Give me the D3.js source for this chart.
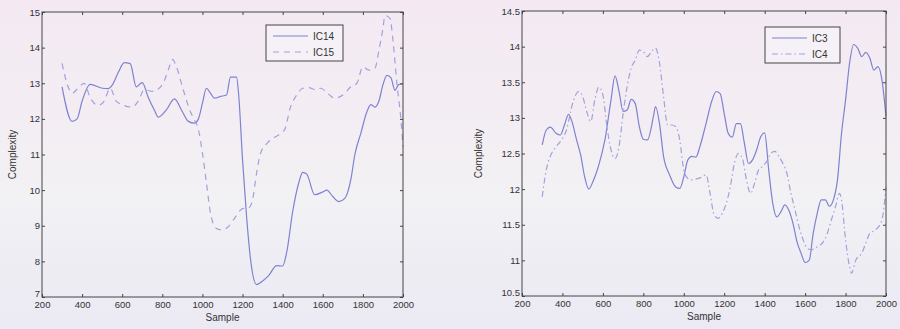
<!DOCTYPE html>
<html>
<head>
<meta charset="utf-8">
<script src="https://cdn.jsdelivr.net/npm/d3@7"></script>
<style>
  body { margin: 0; background: #f1eef4; }
  svg { display: block; }
  text { font-family: "Liberation Sans", Arial, sans-serif; fill: #333; }
</style>
</head>
<body>
<div id="chart"></div>
<script>
// left panel
const xIC14 = [300,350,375,400,440,500,530,550,580,610,640,670,700,730,760,780,820,860,900,930,960,980,1000,1020,1040,1060,1090,1120,1140,1170,1180,1200,1220,1240,1270,1300,1330,1370,1400,1420,1450,1480,1500,1520,1560,1600,1620,1650,1680,1710,1740,1760,1790,1820,1840,1860,1880,1900,1920,1940,1960,1980,2000];
const yIC14 = [12.9,11.93,12.0,12.5,12.97,12.86,12.85,12.95,13.3,13.58,13.55,12.9,13.02,12.6,12.25,12.05,12.25,12.56,12.2,11.93,11.88,12.0,12.44,12.86,12.72,12.58,12.63,12.67,13.17,13.17,12.72,10.85,9.26,8.05,7.35,7.45,7.6,7.88,7.87,8.25,9.4,10.2,10.5,10.45,9.87,9.95,10.0,9.82,9.68,9.77,10.3,11.0,11.6,12.2,12.4,12.33,12.5,12.96,13.22,13.15,12.8,12.97,12.97];
const xIC15 = [300,330,350,380,410,440,480,510,540,570,600,650,680,710,750,800,830,850,870,900,940,960,980,1000,1020,1040,1060,1080,1100,1130,1160,1200,1230,1250,1270,1290,1320,1350,1380,1410,1440,1470,1500,1530,1560,1590,1620,1660,1700,1740,1770,1800,1830,1860,1880,1900,1910,1935,1950,1970,1990,2000];
const yIC15 = [13.56,12.9,12.72,12.86,13.0,12.6,12.38,12.5,12.86,12.5,12.4,12.33,12.5,12.82,12.77,12.96,13.38,13.67,13.47,12.9,12.2,11.97,11.7,11.04,10.2,9.36,8.98,8.9,8.89,8.98,9.21,9.48,9.5,9.73,10.48,11.04,11.3,11.45,11.55,11.7,12.35,12.67,12.86,12.88,12.82,12.86,12.74,12.58,12.67,12.9,13.0,13.46,13.37,13.42,13.93,14.54,14.9,14.82,14.2,12.97,11.97,11.22];

// right panel
const xIC3 = [300,320,340,370,390,410,430,450,470,490,510,530,550,580,610,640,660,680,700,720,740,760,780,800,820,850,860,880,900,930,960,980,1000,1020,1040,1060,1080,1110,1140,1160,1180,1200,1220,1240,1260,1280,1300,1320,1340,1360,1380,1400,1420,1440,1460,1480,1500,1520,1540,1560,1580,1600,1620,1640,1660,1680,1700,1720,1740,1760,1780,1800,1820,1840,1860,1880,1900,1920,1940,1960,1980,2000];
const yIC3 = [12.62,12.83,12.87,12.78,12.76,12.9,13.05,12.92,12.69,12.48,12.17,12.0,12.1,12.34,12.69,13.25,13.59,13.37,13.09,13.11,13.26,13.2,12.88,12.7,12.69,13.02,13.16,12.92,12.46,12.2,12.03,12.01,12.17,12.41,12.46,12.45,12.6,12.92,13.25,13.37,13.34,13.06,12.78,12.73,12.92,12.92,12.64,12.36,12.41,12.55,12.73,12.79,12.27,11.8,11.61,11.68,11.78,11.7,11.52,11.26,11.1,10.97,11.0,11.38,11.66,11.85,11.85,11.76,11.85,12.13,12.78,13.25,13.77,14.03,13.98,13.86,13.92,13.84,13.67,13.72,13.53,13.02];
const xIC4 = [300,320,340,370,400,420,450,480,500,520,540,560,580,600,620,640,660,680,700,720,740,760,780,800,820,840,860,880,900,920,940,960,980,1000,1020,1040,1060,1090,1110,1130,1150,1170,1190,1210,1230,1250,1270,1290,1310,1330,1350,1370,1390,1410,1430,1450,1470,1490,1510,1530,1550,1570,1590,1610,1630,1660,1690,1710,1730,1750,1770,1780,1800,1820,1830,1850,1880,1900,1920,1950,1980,2000];
const yIC4 = [11.89,12.27,12.46,12.6,12.71,12.83,13.2,13.37,13.3,13.09,12.95,13.25,13.43,13.32,12.88,12.55,12.43,12.6,13.06,13.44,13.7,13.81,13.95,13.93,13.86,13.93,13.98,13.77,13.3,12.9,12.9,12.88,12.69,12.27,12.15,12.13,12.14,12.17,12.2,11.94,11.64,11.59,11.66,11.8,12.03,12.36,12.5,12.43,12.13,11.94,12.08,12.27,12.32,12.39,12.5,12.53,12.46,12.36,12.22,11.94,11.71,11.47,11.29,11.17,11.15,11.19,11.26,11.38,11.57,11.75,11.94,11.85,11.29,10.91,10.82,11.0,11.1,11.24,11.38,11.43,11.57,12.03];

const xTicks = [200,400,600,800,1000,1200,1400,1600,1800,2000];
const yTicksLeft = [7,8,9,10,11,12,13,14,15];
const yTicksRight = [10.5,11,11.5,12,12.5,13,13.5,14,14.5];

const W = 900, H = 329;
const svg = d3.select("#chart").append("svg").attr("width", W).attr("height", H);

// soft scanned-paper tint
const grad = svg.append("defs").append("linearGradient")
  .attr("id", "bg").attr("x1", 0).attr("y1", 0).attr("x2", 0).attr("y2", 1);
grad.append("stop").attr("offset", "0%").attr("stop-color", "#f4e9f3");
grad.append("stop").attr("offset", "40%").attr("stop-color", "#f3eef3");
grad.append("stop").attr("offset", "60%").attr("stop-color", "#f2f1f4");
grad.append("stop").attr("offset", "100%").attr("stop-color", "#ebe9f3");
svg.append("rect").attr("width", W).attr("height", H).attr("fill", "url(#bg)");

const solidColor = "#7e82d0";
const dashColor = "#a0a2dc";

function panel(opts) {
  const { left, right, top, bottom, yDomain, yTicks, series, legend } = opts;
  const g = svg.append("g");

  const x = d3.scaleLinear().domain([200, 2000]).range([left, right]);
  const y = d3.scaleLinear().domain(yDomain).range([bottom, top]);

  // inward ticks on all four sides, MATLAB style
  g.append("g").attr("transform", `translate(0,${bottom})`)
    .call(d3.axisBottom(x).tickValues(xTicks).tickSizeInner(-3).tickSizeOuter(0).tickPadding(4)
      .tickFormat(d3.format("d")))
    .call(a => a.select(".domain").remove());
  g.append("g").attr("transform", `translate(0,${top})`)
    .call(d3.axisTop(x).tickValues(xTicks).tickSizeInner(-3).tickSizeOuter(0).tickFormat(""))
    .call(a => a.select(".domain").remove());
  const yAxis = g.append("g").attr("transform", `translate(${left},0)`)
    .call(d3.axisLeft(y).tickValues(yTicks).tickSizeInner(-3).tickSizeOuter(0).tickPadding(2)
      .tickFormat(d => String(d)))
    .call(a => a.select(".domain").remove());
  g.append("g").attr("transform", `translate(${right},0)`)
    .call(d3.axisRight(y).tickValues(yTicks).tickSizeInner(-3).tickSizeOuter(0).tickFormat(""))
    .call(a => a.select(".domain").remove());

  g.selectAll(".tick line").attr("stroke", "#444");
  g.selectAll(".tick text").style("font-size", "9.5px").attr("fill", "#333")
    .style("font-family", "'Liberation Sans', Arial, sans-serif");

  // the lowest y label sits a bit above the corner
  yAxis.selectAll(".tick text").filter(d => d === yDomain[0]).attr("dy", "-0.1em");

  const line = d3.line().x(d => x(d[0])).y(d => y(d[1])).curve(d3.curveMonotoneX);

  series.forEach(s => {
    g.append("path")
      .datum(d3.zip(s.xs, s.ys))
      .attr("d", line)
      .attr("fill", "none")
      .attr("stroke", s.color)
      .attr("stroke-width", 1.2)
      .attr("stroke-dasharray", s.dash);
  });

  // frame
  g.append("rect")
    .attr("x", left).attr("y", top)
    .attr("width", right - left).attr("height", bottom - top)
    .attr("fill", "none").attr("stroke", "#444").attr("stroke-width", 1);

  // axis titles
  g.append("text")
    .attr("x", (left + right) / 2).attr("y", bottom + 24)
    .attr("text-anchor", "middle").style("font-size", "10px").text("Sample");
  g.append("text")
    .attr("transform", `translate(${opts.ylabelX},${(top + bottom) / 2}) rotate(-90)`)
    .attr("text-anchor", "middle").style("font-size", "10px").text("Complexity");

  // legend
  const lg = g.append("g").attr("transform", `translate(${legend.x},${legend.y})`);
  lg.append("rect").attr("width", legend.w).attr("height", 36)
    .attr("fill", "#f6f1f6").attr("stroke", "#444").attr("stroke-width", 1);
  series.forEach((s, i) => {
    const yy = 11 + i * 16;
    lg.append("line").attr("x1", 7).attr("x2", 42).attr("y1", yy).attr("y2", yy)
      .attr("stroke", s.color).attr("stroke-width", 1.2).attr("stroke-dasharray", s.dash);
    lg.append("text").attr("x", 47).attr("y", yy + 3.5)
      .style("font-size", "10px").text(s.name);
  });
}

panel({
  left: 42, right: 403, top: 12, bottom: 297,
  yDomain: [7, 15], yTicks: yTicksLeft, ylabelX: 16,
  legend: { x: 266, y: 25, w: 77 },
  series: [
    { name: "IC14", xs: xIC14, ys: yIC14, color: solidColor, dash: null },
    { name: "IC15", xs: xIC15, ys: yIC15, color: dashColor, dash: "6,5" }
  ]
});

panel({
  left: 522, right: 886, top: 11, bottom: 296,
  yDomain: [10.5, 14.5], yTicks: yTicksRight, ylabelX: 482,
  legend: { x: 765, y: 27, w: 75 },
  series: [
    { name: "IC3", xs: xIC3, ys: yIC3, color: solidColor, dash: null },
    { name: "IC4", xs: xIC4, ys: yIC4, color: dashColor, dash: "6,3,1.5,3" }
  ]
});
</script>
</body>
</html>
